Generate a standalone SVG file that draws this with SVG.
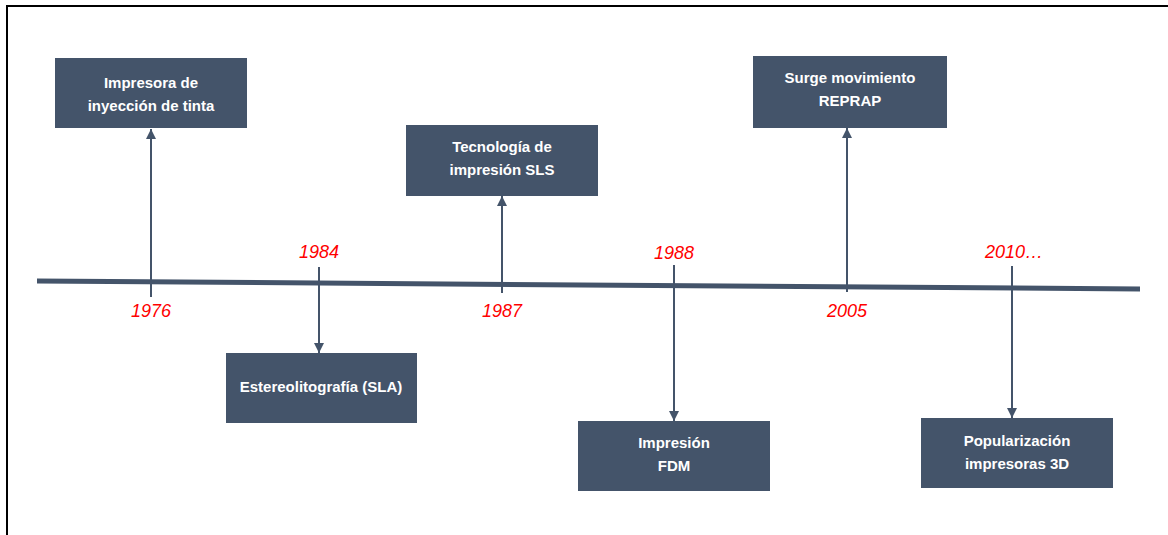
<svg xmlns="http://www.w3.org/2000/svg" width="1168" height="535" viewBox="0 0 1168 535">
<style>
.box{fill:#44546A;}
.t{font-family:"Liberation Sans",Arial,sans-serif;font-weight:bold;font-size:15px;fill:#FFFFFF;text-anchor:middle;}
.yr{font-family:"Liberation Sans",Arial,sans-serif;font-style:italic;font-size:18px;fill:#FF0000;text-anchor:middle;}
.c{stroke:#44546A;stroke-width:2;fill:none;}
</style>
<defs>
<marker id="ah" viewBox="0 0 10 10" refX="10" refY="5" markerWidth="10" markerHeight="10" markerUnits="userSpaceOnUse" orient="auto">
<path d="M0,0 L10,5 L0,10 z" fill="#44546A"/>
</marker>
</defs>
<rect width="1168" height="535" fill="#FFFFFF"/>
<path d="M7,535 L7,6 L1168,6" fill="none" stroke="#000000" stroke-width="2"/>
<line x1="37" y1="281" x2="1140" y2="289" stroke="#44546A" stroke-width="5"/>
<g id="connectors">
<line class="c" x1="151" y1="297" x2="151" y2="129" marker-end="url(#ah)"/>
<line class="c" x1="319" y1="267" x2="319" y2="353" marker-end="url(#ah)"/>
<line class="c" x1="502" y1="293" x2="502" y2="196" marker-end="url(#ah)"/>
<line class="c" x1="674" y1="265" x2="674" y2="421" marker-end="url(#ah)"/>
<line class="c" x1="847" y1="292" x2="847" y2="128" marker-end="url(#ah)"/>
<line class="c" x1="1012" y1="266" x2="1012" y2="418" marker-end="url(#ah)"/>
</g>
<g id="years">
<text class="yr" x="151" y="317">1976</text>
<text class="yr" x="319" y="258">1984</text>
<text class="yr" x="502" y="317">1987</text>
<text class="yr" x="674" y="259">1988</text>
<text class="yr" x="847" y="317">2005</text>
<text class="yr" x="1014" y="258">2010…</text>
</g>
<g id="n1976">
<rect class="box" x="55" y="58" width="192" height="70"/>
<text class="t" x="151" y="88">Impresora de</text>
<text class="t" x="151" y="111">inyección de tinta</text>
</g>
<g id="n1984">
<rect class="box" x="226" y="353" width="191" height="70"/>
<text class="t" x="321" y="392">Estereolitografía (SLA)</text>
</g>
<g id="n1987">
<rect class="box" x="406" y="125" width="192" height="71"/>
<text class="t" x="502" y="152">Tecnología de</text>
<text class="t" x="502" y="175">impresión SLS</text>
</g>
<g id="n1988">
<rect class="box" x="578" y="421" width="192" height="70"/>
<text class="t" x="674" y="448">Impresión</text>
<text class="t" x="674" y="471">FDM</text>
</g>
<g id="n2005">
<rect class="box" x="753" y="56" width="194" height="72"/>
<text class="t" x="850" y="83">Surge movimiento</text>
<text class="t" x="850" y="106">REPRAP</text>
</g>
<g id="n2010">
<rect class="box" x="921" y="418" width="192" height="70"/>
<text class="t" x="1017" y="446">Popularización</text>
<text class="t" x="1017" y="469">impresoras 3D</text>
</g>
</svg>
